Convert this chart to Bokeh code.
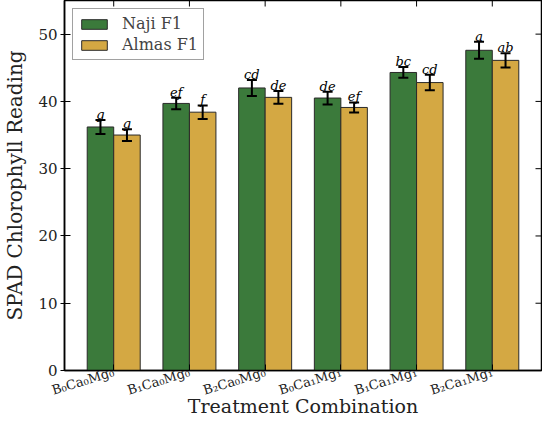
import math
from bokeh.plotting import figure
from bokeh.models import ColumnDataSource, Whisker, TeeHead, FixedTicker, Range1d
from bokeh.core.properties import value
from bokeh.embed import file_html
from bokeh.resources import INLINE

# ---- data ----
categories = ["B\u2080Ca\u2080Mg\u2080", "B\u2081Ca\u2080Mg\u2080", "B\u2082Ca\u2080Mg\u2080",
              "B\u2080Ca\u2081Mg\u2081", "B\u2081Ca\u2081Mg\u2081", "B\u2082Ca\u2081Mg\u2081"]
naji = [36.2, 39.7, 42.0, 40.5, 44.3, 47.6]
naji_err = [1.05, 0.85, 1.2, 0.95, 0.8, 1.25]
naji_letters = ["g", "ef", "cd", "de", "bc", "a"]
almas = [35.0, 38.4, 40.6, 39.1, 42.8, 46.1]
almas_err = [0.88, 1.0, 0.95, 0.75, 1.15, 1.05]
almas_letters = ["g", "f", "de", "ef", "cd", "ab"]
series_names = ["Naji F1", "Almas F1"]
y_ticks = [0, 10, 20, 30, 40, 50]

GREEN = "#3b7a3b"
GOLD = "#d4a843"
FONT = "DejaVu Serif"
bar_w = 0.35
Y_MAX = 55

idx = list(range(len(categories)))
x_lo, x_hi = -0.65, len(categories) - 0.35

p = figure(width=542, height=420, output_backend="svg", toolbar_location=None,
           x_range=Range1d(x_lo, x_hi), y_range=Range1d(0, Y_MAX),
           min_border_left=54, min_border_right=1, min_border_top=0, min_border_bottom=50)

def make_src(vals, errs, letters, off):
    xs = [i + off for i in idx]
    return ColumnDataSource(dict(
        x=xs, top=vals,
        upper=[v + e for v, e in zip(vals, errs)],
        lower=[v - e for v, e in zip(vals, errs)],
        lab=letters))

src_n = make_src(naji, naji_err, naji_letters, -bar_w / 2)
src_a = make_src(almas, almas_err, almas_letters, bar_w / 2)

for src, col, name in [(src_n, GREEN, series_names[0]), (src_a, GOLD, series_names[1])]:
    p.vbar(x="x", top="top", width=bar_w, bottom=0, source=src, fill_color=col,
           line_color="#2a2a2a", line_width=1, legend_label=name)
    w = Whisker(source=src, base="x", upper="upper", lower="lower", line_color="black",
                line_width=2, level="overlay",
                upper_head=TeeHead(size=10, line_width=2, line_color="black"),
                lower_head=TeeHead(size=10, line_width=2, line_color="black"))
    p.add_layout(w)
    p.text(x="x", y="upper", text="lab", source=src, text_font=value(FONT),
           text_font_style="italic", text_font_size="13px", text_align="center",
           text_baseline="bottom", y_offset=2, text_color="black")

# inward tick marks on top and right frame edges
p.ray(x=idx, y=[Y_MAX] * len(idx), length=6, length_units="screen",
      angle=-math.pi / 2, line_color="black", line_width=1)
p.ray(x=[x_hi] * len(y_ticks), y=y_ticks, length=6, length_units="screen",
      angle=math.pi, line_color="black", line_width=1)

# axes
p.xgrid.visible = False
p.ygrid.visible = False
p.outline_line_color = "black"
p.outline_line_width = 1.5

xa = p.xaxis[0]
xa.ticker = FixedTicker(ticks=idx)
xa.major_label_overrides = {i: c for i, c in zip(idx, categories)}
xa.major_label_orientation = 0.3
xa.major_label_text_font = FONT
xa.major_label_text_font_size = "13px"
xa.major_label_text_line_height = 1.0
xa.major_label_text_color = "#222222"
xa.major_label_standoff = 1
xa.major_tick_in = 6
xa.major_tick_out = 0
xa.minor_tick_line_color = None
xa.axis_label = "Treatment Combination"
xa.axis_label_text_font = FONT
xa.axis_label_text_font_size = "19px"
xa.axis_label_text_line_height = 0.9
xa.axis_label_text_font_style = "normal"
xa.axis_label_text_color = "#222222"
xa.axis_label_standoff = -13
xa.axis_line_width = 1.5

ya = p.yaxis[0]
ya.ticker = FixedTicker(ticks=y_ticks)
ya.major_label_text_font = FONT
ya.major_label_text_font_size = "15px"
ya.major_label_text_color = "#222222"
ya.major_label_standoff = 3
ya.major_tick_in = 6
ya.major_tick_out = 4
ya.minor_tick_line_color = None
ya.axis_label = "SPAD Chlorophyll Reading"
ya.axis_label_text_font = FONT
ya.axis_label_text_font_size = "20px"
ya.axis_label_text_font_style = "normal"
ya.axis_label_text_color = "#222222"
ya.axis_label_standoff = 8
ya.axis_line_width = 1.5

lg = p.legend[0]
lg.location = "top_left"
lg.margin = 8
lg.padding = 5
lg.spacing = 2
lg.glyph_width = 32
lg.glyph_height = 12
lg.label_standoff = 12
lg.label_text_font = FONT
lg.label_text_font_size = "16px"
lg.label_height = 14
lg.border_line_color = "#444444"
lg.border_line_width = 1.5
lg.background_fill_color = "white"
lg.background_fill_alpha = 1

open("out.html", "w").write(file_html(p, INLINE))
